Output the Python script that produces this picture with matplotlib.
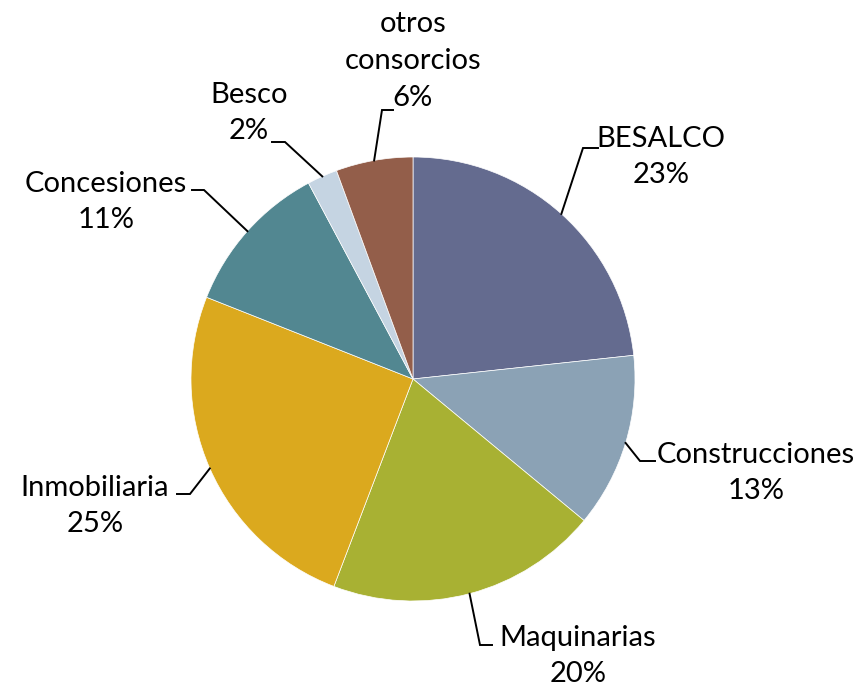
import numpy as np
import matplotlib
matplotlib.use("Agg")
import matplotlib.pyplot as plt

categories = ["BESALCO", "Construcciones", "Maquinarias", "Inmobiliaria",
              "Concesiones", "Besco", "otros\nconsorcios"]
values = [23.3, 12.7, 19.8, 25.2, 11.2, 2.2, 5.6]
colors = ["#646B8F", "#8BA2B5", "#A8B133", "#DBA91E", "#528791", "#C5D4E2", "#935E4A"]

# layout (pixel positions in the 860x688 canvas): label centre, elbow, end of leader
label_px = [(661, 157), (756, 473), (578, 656), (95, 506), (106, 202), (249, 113), (413, 61)]
elbow_px = [(583, 148), (640, 461), (480, 645), (190, 494), (204, 190), (285, 142), (382, 110)]
end_px = [(598, 148), (655, 461), (492, 645), (177, 494), (192, 190), (272, 142), (393, 110)]

W, H = 860, 688
CX, CY, R = 413, 379, 222

plt.rcParams['font.family'] = ['Lato', 'DejaVu Sans']

fig = plt.figure(figsize=(W / 100, H / 100), dpi=100)
ax = fig.add_axes([0, 0, 1, 1])

wedges, _ = ax.pie(values, colors=colors, startangle=90, counterclock=False,
                   radius=1.0, center=(0, 0),
                   wedgeprops=dict(edgecolor='white', linewidth=0.5))
ax.set_xlim(-CX / R, (W - CX) / R)
ax.set_ylim(-(H - CY) / R, CY / R)
ax.set_aspect('equal')
ax.axis('off')


def to_data(p):
    return ((p[0] - CX) / R, (CY - p[1]) / R)


total = sum(values)
for w, cat, v, lp, ep, np_ in zip(wedges, categories, values, label_px, elbow_px, end_px):
    mid = np.deg2rad((w.theta1 + w.theta2) / 2)
    start = (np.cos(mid), np.sin(mid))
    e = to_data(ep)
    n = to_data(np_)
    ax.plot([start[0], e[0], n[0]], [start[1], e[1], n[1]], color='black', lw=1.4,
            solid_joinstyle='miter')
    pct = round(v / total * 100)
    lx, ly = to_data(lp)
    ax.text(lx, ly, f"{cat}\n{pct}%", ha='center', va='center', fontsize=21,
            linespacing=1.5, color='black')

fig.savefig("out.png", dpi=100)
